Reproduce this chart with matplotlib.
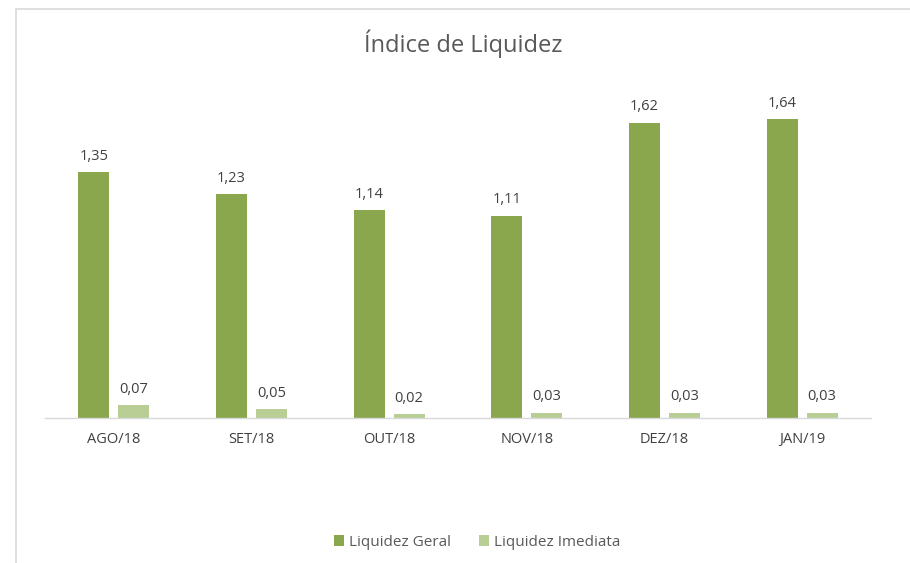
import matplotlib
matplotlib.use("Agg")
import matplotlib.pyplot as plt
from matplotlib.patches import Rectangle
import numpy as np

categories = ["AGO/18", "SET/18", "OUT/18", "NOV/18", "DEZ/18", "JAN/19"]
geral = [1.35, 1.23, 1.14, 1.11, 1.62, 1.64]
imediata = [0.07, 0.05, 0.02, 0.03, 0.03, 0.03]
series_names = ["Liquidez Geral", "Liquidez Imediata"]
title = "Índice de Liquidez"

W, H = 910, 563
fig = plt.figure(figsize=(W / 100, H / 100), dpi=100)
plt.rcParams['font.family'] = ['Open Sans', 'DejaVu Sans']

# chart border (partially outside the image)
fig.patches.append(Rectangle((16 / W, -0.1), 2.0, 1 - 9 / H + 0.1, transform=fig.transFigure,
                             fill=False, edgecolor="#D9D9D9", linewidth=1.2))

c1, c2 = "#8BA74D", "#B9CE95"
ax = fig.add_axes([45 / W, 1 - 418 / H, 826 / W, 328 / H])
x = np.arange(len(categories))
bw = 0.225
off = 0.145
b1 = ax.bar(x - off, geral, bw, color=c1, label=series_names[0])
b2 = ax.bar(x + off, imediata, bw, color=c2, label=series_names[1])
ax.set_xlim(-0.5, len(categories) - 0.5)
ax.set_ylim(0, 1.8)
for s in ["top", "right", "left"]:
    ax.spines[s].set_visible(False)
ax.spines["bottom"].set_color("#D9D9D9")
ax.spines["bottom"].set_linewidth(1.0)
ax.set_yticks([])
ax.set_xticks(x)
ax.set_xticklabels(categories, fontsize=10.5, color="#404040")
ax.tick_params(axis="x", length=0, pad=10)

for bars, vals in ((b1, geral), (b2, imediata)):
    for r, v in zip(bars, vals):
        ax.annotate(f"{v:.2f}".replace(".", ","), (r.get_x() + r.get_width() / 2, v),
                    xytext=(0, 6), textcoords="offset points", ha="center", va="bottom",
                    fontsize=10.5, color="#404040")

fig.text(463 / W, 1 - 44 / H, title, ha="center", va="center", fontsize=17, color="#595959")

fig.legend(handles=[b1, b2], labels=series_names, loc="center", bbox_to_anchor=(477 / W, 1 - 542 / H),
           ncol=2, frameon=False, fontsize=11, handlelength=0.7, handleheight=0.7,
           handletextpad=0.3, columnspacing=1.8, labelcolor="#595959")

fig.savefig("out.png", dpi=100)
